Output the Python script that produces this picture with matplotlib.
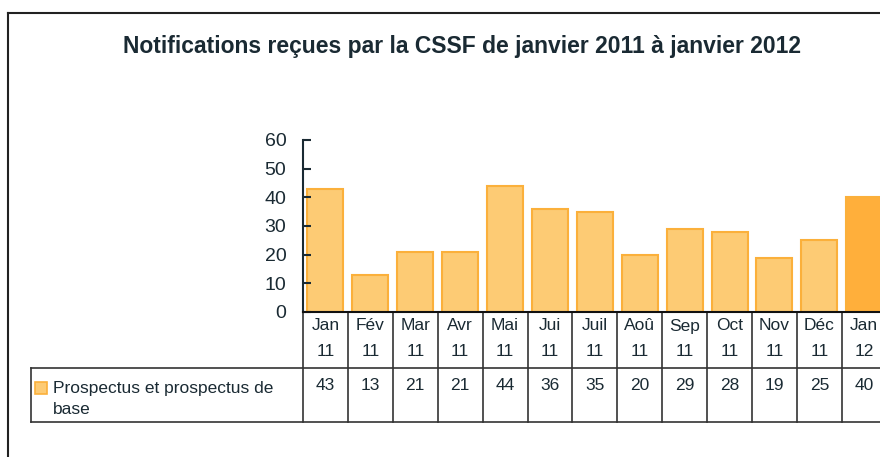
import matplotlib.pyplot as plt
from matplotlib.lines import Line2D
from matplotlib.transforms import blended_transform_factory

months = ["Jan", "Fév", "Mar", "Avr", "Mai", "Jui", "Juil", "Aoû", "Sep", "Oct", "Nov", "Déc", "Jan"]
years = ["11"] * 12 + ["12"]
values = [43, 13, 21, 21, 44, 36, 35, 20, 29, 28, 19, 25, 40]
series_name = "Prospectus et prospectus de\nbase"

W, H = 880, 457
txt = "#1A2A33"
fill = "#FDCB74"
edge = "#FBB03B"
last_fill = "#FFAF3B"

plt.rcParams['font.family'] = ['Liberation Sans', 'DejaVu Sans']

fig = plt.figure(figsize=(W / 100, H / 100), dpi=100)

# axes in pixel space: y-axis at x=303, category width ~44.9px, zero at y=312, 60 at y=140
x0, cw = 303, 44.9
ax = fig.add_axes([x0 / W, 1 - 312 / H, 13 * cw / W, 172 / H])

colors = [fill] * 12 + [last_fill]
ax.bar(range(len(values)), values, width=0.8, color=colors, edgecolor=edge, linewidth=1.5)
ax.set_xlim(-0.5, 12.5)
ax.set_ylim(0, 60)
ax.set_yticks(range(0, 61, 10))
ax.set_xticks([])
ax.tick_params(axis='y', direction='in', length=6, width=1.5, color=txt,
               labelsize=14, labelcolor=txt, pad=12)
for s in ['top', 'right']:
    ax.spines[s].set_visible(False)
ax.spines['left'].set_color(txt)
ax.spines['left'].set_linewidth(1.5)
ax.spines['bottom'].set_color("#111111")
ax.spines['bottom'].set_linewidth(1.5)

# data-table under the chart
def ay(py):
    return (312 - py) / 172

tr = blended_transform_factory(ax.transData, ax.transAxes)
trf = blended_transform_factory(fig.transFigure, ax.transAxes)
lc = "#333333"
fs = 12.5

for i, (m, yr, v) in enumerate(zip(months, years, values)):
    ax.text(i, ay(326), m, transform=tr, ha='center', va='center', fontsize=fs, color=txt)
    ax.text(i, ay(351), yr, transform=tr, ha='center', va='center', fontsize=fs, color=txt)
    ax.text(i, ay(385), str(v), transform=tr, ha='center', va='center', fontsize=fs, color=txt)

# vertical cell borders
for i in range(len(values) + 1):
    ax.add_line(Line2D([i - 0.5, i - 0.5], [ay(312), ay(422)], transform=tr,
                       color=lc, lw=1.2, clip_on=False))

# horizontal borders of the value row
for py in [368, 422]:
    ax.add_line(Line2D([31 / W, 1.0], [ay(py), ay(py)], transform=trf,
                       color=lc, lw=1.2, clip_on=False))
ax.add_line(Line2D([31 / W, 31 / W], [ay(368), ay(422)], transform=trf,
                   color=lc, lw=1.2, clip_on=False))

# legend key
ax.plot([41 / W], [ay(388)], transform=trf, marker='s', markersize=8,
        markerfacecolor=fill, markeredgecolor=edge, markeredgewidth=1.2, clip_on=False)
ax.text(53 / W, ay(399), series_name, transform=trf, ha='left', va='center',
        fontsize=fs, color=txt, linespacing=1.45)

fig.text(462 / W, 1 - 46 / H, "Notifications reçues par la CSSF de janvier 2011 à janvier 2012",
         ha='center', va='center', fontsize=16.5, fontweight='bold', color=txt)

# outer frame (left and top edges visible)
fig.add_artist(Line2D([7.5 / W, 7.5 / W], [0, 1 - 13 / H], transform=fig.transFigure,
                      color="#222222", lw=1.5))
fig.add_artist(Line2D([7.5 / W, 1], [1 - 13 / H, 1 - 13 / H], transform=fig.transFigure,
                      color="#222222", lw=1.5))

fig.savefig("out.png", dpi=100)
